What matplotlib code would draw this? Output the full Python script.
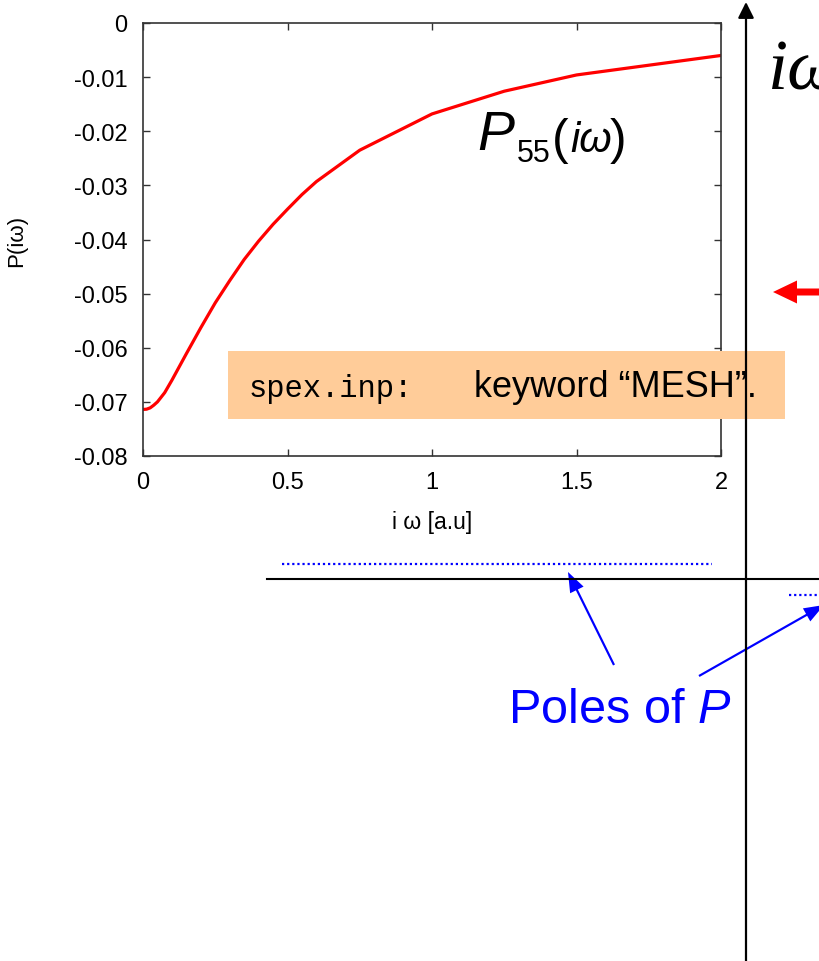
import numpy as np
import matplotlib.pyplot as plt
from matplotlib.patches import Rectangle, FancyArrow

# P_55(i w)
omega = [0.0, 0.0125, 0.025, 0.0375, 0.05, 0.075, 0.1, 0.15, 0.2, 0.25, 0.3, 0.35,
         0.4, 0.45, 0.5, 0.55, 0.6, 0.75, 1.0, 1.25, 1.5, 2.0]
p55 = [-0.0714, -0.07135, -0.0711, -0.0706, -0.0700, -0.0683, -0.0660, -0.0611,
       -0.0563, -0.0517, -0.0476, -0.0437, -0.0403, -0.0372, -0.0344, -0.0317,
       -0.0293, -0.0235, -0.0168, -0.0126, -0.0096, -0.0060]

xticks = [0, 0.5, 1, 1.5, 2]
xtick_labels = ['0', '0.5', '1', '1.5', '2']
yticks = [0, -0.01, -0.02, -0.03, -0.04, -0.05, -0.06, -0.07, -0.08]
ytick_labels = ['0', '-0.01', '-0.02', '-0.03', '-0.04', '-0.05', '-0.06', '-0.07', '-0.08']

W, H = 819, 962


def main():
    plt.rcParams['font.family'] = ['Liberation Sans', 'DejaVu Sans']
    plt.rcParams['mathtext.fontset'] = 'custom'
    plt.rcParams['mathtext.rm'] = 'Liberation Sans'
    plt.rcParams['mathtext.it'] = 'Liberation Sans:italic'
    fig = plt.figure(figsize=(W / 100, H / 100), dpi=100)

    # the gnuplot panel
    ax = fig.add_axes([143 / W, 1 - 457 / H, 578 / W, 433 / H])
    ax.plot(omega, p55, color='#ff0000', lw=2.3, solid_joinstyle='round')
    ax.set_xlim(0, 2)
    ax.set_ylim(-0.08, 0)
    ax.set_xticks(xticks)
    ax.set_xticklabels(xtick_labels)
    ax.set_yticks(yticks)
    ax.set_yticklabels(ytick_labels)
    ax.tick_params(direction='in', length=5, width=1, colors='#333333',
                   labelcolor='black', labelsize=17, pad=11,
                   top=True, right=True)
    for s in ax.spines.values():
        s.set_linewidth(1.2)
        s.set_color('#333333')
    ax.set_xlabel('i \u03c9 [a.u]', fontsize=16.5)
    ax.xaxis.set_label_coords(0.5, -0.125)
    ax.set_ylabel('P(i\u03c9)', fontsize=16)
    ax.yaxis.set_label_coords(-0.2, 0.5)

    # overlay in pixel coordinates for the sketch around the plot
    ov = fig.add_axes([0, 0, 1, 1])
    ov.set_xlim(0, W)
    ov.set_ylim(H, 0)
    ov.axis('off')

    # curve label P_55(i w), pieced together
    ov.text(477, 150, 'P', fontsize=40, style='italic', va='baseline')
    ov.text(517, 162, '55', fontsize=22, va='baseline')
    ov.text(552, 154, '(', fontsize=36, va='baseline')
    ov.text(570, 152, 'i\u03c9', fontsize=30, style='italic', va='baseline')
    ov.text(610, 154, ')', fontsize=36, va='baseline')

    # imaginary axis with arrow on top
    ov.annotate('', xy=(746, 3), xytext=(746, H + 5),
                arrowprops=dict(arrowstyle='-|>', lw=1.6, color='black',
                                mutation_scale=24, shrinkA=0, shrinkB=0))
    ov.text(768, 90, 'i\u03c9', fontsize=52, family='Liberation Serif',
            style='italic', ha='left', va='baseline')

    # real axis
    ov.plot([267, W + 5], [580, 580], color='black', lw=1.5)

    # red arrow
    ov.add_patch(FancyArrow(835, 293, -62, 0, width=7, head_width=23, head_length=24,
                            length_includes_head=True, color='#ff0000', lw=0))

    # poles
    ov.plot([282, 712], [565, 565], color='#0000ff', lw=1.6, ls=(0, (1, 1.3)))
    ov.plot([789, W + 5], [596, 596], color='#0000ff', lw=1.6, ls=(0, (1, 1.3)))
    ov.add_patch(FancyArrow(614, 666, -46, -93, width=2.2, head_width=15, head_length=20,
                            length_includes_head=True, color='#0000ff', lw=0))
    ov.add_patch(FancyArrow(699, 677, 125, -71, width=2.2, head_width=15, head_length=20,
                            length_includes_head=True, color='#0000ff', lw=0))
    ov.text(508, 723, 'Poles of $P$', fontsize=35, color='#0000ff',
            ha='left', va='baseline')

    # orange note box
    ov.add_patch(Rectangle((228, 352), 557, 68, facecolor='#ffcc99', edgecolor='none'))
    ov.text(249, 397, 'spex.inp:', fontsize=22, family='Liberation Mono',
            ha='left', va='baseline')
    ov.text(474, 397, 'keyword \u201cMESH\u201d.', fontsize=26, ha='left', va='baseline')

    fig.savefig('out.png', dpi=100)


if __name__ == '__main__':
    main()
